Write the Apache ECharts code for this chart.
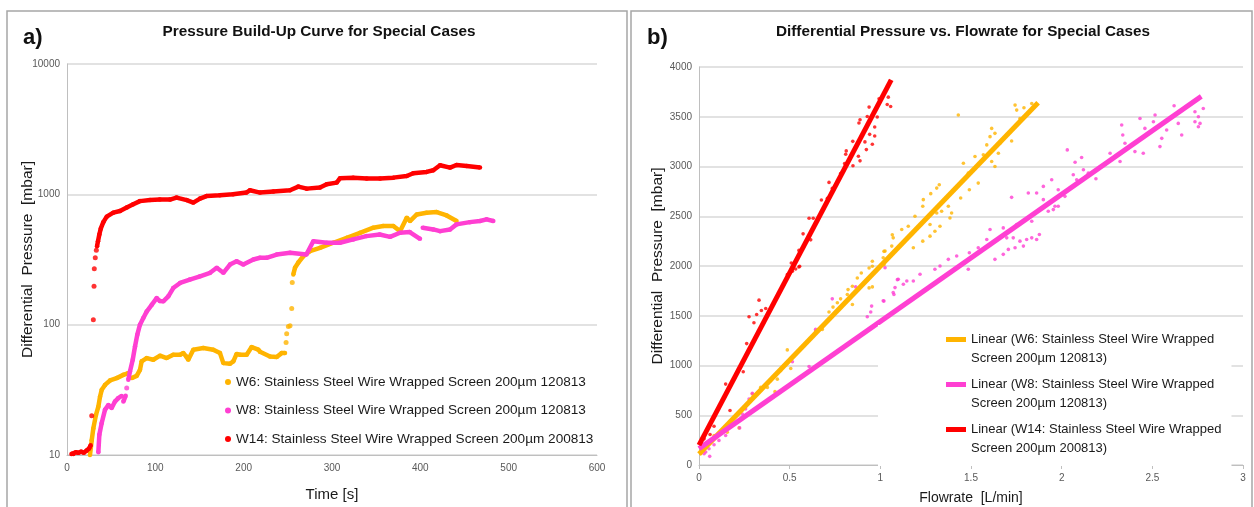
<!DOCTYPE html>
<html><head><meta charset="utf-8">
<script src="https://cdn.jsdelivr.net/npm/echarts@6/dist/echarts.min.js"></script>
<style>html,body{margin:0;padding:0;background:#fff}#c{width:1254px;height:507px}</style>
</head><body><div id="c"></div>
<script>
// ---------- Panel a) : pressure build-up (time [s], pressure [mbar]); null = break in trace
const w6Build = [[26,10],[28,13],[29.8,16],[32.8,20.3],[35.5,23.5],[37.4,28],[39.3,31.6],[43,34.5],[48.7,37.3],[56.3,38.9],[63.8,41.2],[69.4,42.5],null,
  [73.2,38.9],[78.9,40.5],[82.6,45],[84.5,52.3],[90.2,55.4],[97.7,53.8],[105.3,57.8],[112.8,55.4],[120.3,58.8],[128,58.8],[131.7,60.5],[135,57],[137.3,53.8],
  [143,64.3],[154.3,66.2],[165.6,64.3],[173.2,60.5],[177,50.7],[184.5,50.1],[188.3,52.3],[192,59.6],[196,58.8],[203.4,58.8],[209,67.3],[216.6,64.3],[218.5,62],
  [229.8,57],[237.4,56.5],[243,60.5],[246.8,60.5],null,[248,73],null,[248.7,85],null,[250.6,97],null,[252.5,98],null,[254.4,133],null,[255,211],null,
  [256.2,243],[258.1,273],[261.9,300],[267.5,335],[275,366],[286.4,389],[301.5,425],[316.7,464],[331.7,507],[346.8,555],[358,571],[369.4,571],[377,522],
  [384.6,662],[388.3,624],[396,701],[407,723],[418.5,731],[429.8,689],[441,624]];
const w8Build = [[35.5,10.5],[36.6,14.3],[39.2,17.5],[43,22.2],[46.8,24.2],[50.6,22.9],[54.3,25.7],[58,27.3],[61.9,28.4],null,
  [63.8,25.7],[66.4,28.5],null,[67.6,32.6],null,
  [69.4,37.8],[71.3,43.8],[74.4,53.8],[77,68],[79.6,83.8],[82.6,100],[86.4,112.6],[90.2,126],[95.9,142],[101.5,160],[105,152],[109,151],[114.7,165],
  [120.3,191],[128,209],[139,222],[150.6,235],[162,250],[169.5,273],[177,250],[184.5,289],[192,307],[199.6,289],[211,316],[218.5,326],[226,326],
  [237.4,345],[252.5,356],[271,345],[278.8,437],[294,425],[309,425],[324,451],[339,478],[354,492],[365.7,472],[377,507],[388,513],[399.6,456],null,
  [402.7,555],[414.7,538],[422.3,522],[433.6,538],[441,588],[456,612],[467.5,624],[475,643],[482.6,624]];
const w14Build = [[5,10.2],[7.2,10.2],[10,10.5],[12.8,10.4],[16,10.6],[19,10.4],[22,10.8],[25,11.2],[26.8,11.9],null,
  [28,20],null,[29.8,109],null,[30.6,197],null,[30.9,268],null,[32,326],null,[33.2,373],null,
  [34,400],[35.1,437],[36.6,492],[38.2,545],[41.1,612],[45,674],[52.4,723],[60,745],[67.6,791],[75,838],[82.6,887],[94,903],[105,912],[116.6,912],
  [124,944],[135.5,903],[143,864],[150.6,927],[158,970],[173,982],[188,1000],[203,1031],[207,1074],[218.5,1031],[233.6,1050],[252.5,1074],
  [261.9,1146],[271.4,1106],[286.4,1127],[294,1194],[305.3,1230],[309,1328],[324,1343],[339.3,1320],[354.4,1320],[369.4,1343],[384.6,1383],
  [392,1452],[407,1486],[414.7,1531],[422.3,1673],[433.6,1604],[441,1680],[452.5,1651],[467.5,1604]];

// ---------- Panel b) : differential pressure vs flowrate (L/min, mbar)
const w6Flow = [[0.009,113],[0.028,163],[0.083,297],[0.156,330],[0.221,373],[0.294,713],[0.340,780],[0.377,780],[0.395,847],[0.419,737],[0.432,863],
  [0.450,947],[0.487,1157],[0.506,970],[0.643,1347],[0.680,1363],[0.717,1537],[0.739,1587],[0.763,1630],[0.781,1670],[0.818,1713],[0.822,1763],
  [0.846,1797],[0.846,1613],[0.873,1880],[0.895,1930],[0.938,1780],[0.956,1790],[0.938,1980],[0.956,1997],[0.993,1980],[1.020,2013],[0.956,2047],
  [1.016,2083],[1.020,2147],[1.026,2150],[1.063,2200],[1.071,2283],[1.066,2313],[1.118,2367],[1.154,2400],[1.191,2500],[1.182,2183],[1.234,2250],
  [1.274,2300],[1.274,2417],[1.301,2350],[1.329,2400],[1.311,2533],[1.338,2550],[1.384,2483],[1.393,2533],[1.375,2600],[1.234,2600],[1.237,2667],
  [1.278,2727],[1.311,2783],[1.325,2817],[1.443,2683],[1.491,2767],[1.540,2833],[1.485,2933],[1.458,3033],[1.522,3100],[1.568,3117],[1.587,3217],
  [1.614,3050],[1.632,3000],[1.651,3133],[1.660,3233],[1.605,3300],[1.632,3333],[1.614,3383],[1.430,3517],[1.724,3257],[1.770,3483],[1.752,3567],
  [1.743,3617],[1.792,3590],[1.835,3633]];
const w8Flow = [[0.028,113],[0.037,130],[0.059,87],[0.055,163],[0.083,203],[0.110,247],[0.147,297],[0.224,373],[0.239,513],[0.257,563],[0.276,663],
  [0.294,720],[0.515,1037],[0.607,990],[0.643,1363],[0.735,1670],[0.864,1790],[0.928,1490],[0.947,1537],[0.952,1597],[1.020,1647],[1.016,1650],
  [1.075,1713],[1.071,1733],[1.081,1783],[1.094,1863],[1.099,1867],[1.127,1817],[1.146,1850],[1.182,1850],[1.219,1917],[1.026,1983],[1.301,1967],
  [1.329,2000],[1.375,2067],[1.421,2100],[1.485,1967],[1.491,2133],[1.540,2183],[1.632,2067],[1.678,2117],[1.706,2167],[1.743,2183],[1.789,2200],
  [1.587,2267],[1.642,2267],[1.697,2283],[1.733,2283],[1.770,2250],[1.807,2267],[1.835,2283],[1.862,2267],[1.877,2317],[1.605,2367],[1.678,2383],
  [1.752,2417],[1.835,2450],[1.926,2550],[1.954,2567],[1.963,2600],[1.981,2600],[1.899,2667],[1.973,2683],[2.018,2700],[1.724,2690],[1.816,2733],
  [1.862,2733],[1.981,2767],[1.899,2800],[1.945,2867],[2.083,2867],[2.064,2917],[2.189,2877],[2.147,2933],[2.120,2967],[2.074,3043],[2.110,3090],
  [2.031,3167],[2.322,3050],[2.267,3133],[2.404,3150],[2.450,3133],[2.349,3233],[2.337,3317],[2.331,3417],[2.542,3200],[2.552,3283],[2.579,3367],
  [2.459,3383],[2.432,3483],[2.506,3450],[2.515,3517],[2.620,3610],[2.643,3433],[2.662,3317],[2.735,3450],[2.763,3433],[2.754,3400],[2.754,3500],
  [2.735,3550],[2.781,3583]];
const w14Flow = [[0.009,230],[0.028,263],[0.061,307],[0.083,390],[0.147,813],[0.171,547],[0.244,937],[0.263,1220],[0.276,1490],[0.303,1430],
  [0.318,1513],[0.331,1657],[0.344,1553],[0.368,1573],[0.487,1913],[0.515,1947],[0.533,1970],[0.551,1990],[0.509,2030],[0.555,1997],[0.551,2157],
  [0.574,2323],[0.616,2263],[0.607,2480],[0.630,2480],[0.675,2663],[0.708,2680],[0.735,2780],[0.717,2840],[0.781,2930],[0.803,3030],[0.849,3007],
  [0.879,3103],[0.888,3057],[0.809,3123],[0.812,3157],[0.848,3253],[0.882,3437],[0.888,3470],[0.923,3170],[0.915,3247],[0.956,3223],[0.941,3323],
  [0.969,3307],[0.969,3397],[0.928,3503],[0.938,3597],[0.983,3497],[0.971,3563],[0.993,3680],[1.038,3623],[1.044,3697],[1.057,3603]];
// linear trend lines (end points)
const w6Trend = [[0,110],[1.87,3640]];
const w8Trend = [[0,165],[2.77,3705]];
const w14Trend = [[0,200],[1.06,3870]];

// ---------- names, ticks
const buildNames = ['W6: Stainless Steel Wire Wrapped Screen 200µm 120813','W8: Stainless Steel Wire Wrapped Screen 200µm 120813','W14: Stainless Steel Wire Wrapped Screen 200µm 200813'];
const trendNames = ['Linear (W6: Stainless Steel Wire Wrapped\nScreen 200µm 120813)','Linear (W8: Stainless Steel Wire Wrapped\nScreen 200µm 120813)','Linear (W14: Stainless Steel Wire Wrapped\nScreen 200µm 200813)'];
const timeTicks = [0,100,200,300,400,500,600];
const pressureLogTicks = [10,100,1000,10000];
const flowTicks = [0,0.5,1,1.5,2,2.5,3];
const dpTicks = [0,500,1000,1500,2000,2500,3000,3500,4000];
const colors = ['#FFB400','#FF3FD2','#FF0000'];

const SANS = '"Liberation Sans",Arial,sans-serif';

function segments(arr){const s=[];let c=[];arr.forEach(p=>{if(p===null){if(c.length)s.push(c);c=[];}else c.push(p);});if(c.length)s.push(c);return s;}

const series = [];
[w6Build,w8Build,w14Build].forEach((arr,i)=>{
  segments(arr).forEach(seg=>{
    if(seg.length>1){
      series.push({type:'line',name:buildNames[i],xAxisIndex:0,yAxisIndex:0,data:seg,symbol:'circle',symbolSize:4.5,showSymbol:true,
        lineStyle:{width:4.5,color:colors[i]},itemStyle:{color:colors[i]},z:2+i,animation:false,silent:true});
    } else {
      series.push({type:'scatter',name:buildNames[i],xAxisIndex:0,yAxisIndex:0,data:seg,symbol:'circle',symbolSize:5,
        itemStyle:{color:colors[i]},z:2+i,animation:false,silent:true});
    }
  });
});
[w6Flow,w8Flow,w14Flow].forEach((arr,i)=>{
  series.push({type:'scatter',name:'pts'+i,xAxisIndex:1,yAxisIndex:1,data:arr,symbol:'circle',symbolSize:3.6,
    itemStyle:{color:colors[i]},animation:false,silent:true,z:2});
});
[w6Trend,w8Trend,w14Trend].forEach((arr,i)=>{
  series.push({type:'line',name:trendNames[i],xAxisIndex:1,yAxisIndex:1,data:arr,symbol:'none',
    lineStyle:{width:5,color:colors[i]},itemStyle:{color:colors[i]},animation:false,silent:true,z:3});
});

const tickLabel = {fontFamily:SANS,fontSize:10,color:'#595959',formatter:v=>String(v)};
const gridLine = {show:true,lineStyle:{color:'#d9d9d9',width:1.5}};
const axisLine = {show:true,lineStyle:{color:'#bfbfbf',width:1}};

const option = {
  backgroundColor:'#fff',
  animation:false,
  title:[
    {text:'a)',left:23,top:27,padding:0,textStyle:{fontFamily:SANS,fontSize:22,fontWeight:'bold',color:'#111'}},
    {text:'Pressure Build-Up Curve for Special Cases',left:319,top:24,padding:0,textAlign:'center',textStyle:{fontFamily:SANS,fontSize:15.3,fontWeight:'bold',color:'#111'}},
    {text:'b)',left:647,top:27,padding:0,textStyle:{fontFamily:SANS,fontSize:22,fontWeight:'bold',color:'#111'}},
    {text:'Differential Pressure vs. Flowrate for Special Cases',left:963,top:24,padding:0,textAlign:'center',textStyle:{fontFamily:SANS,fontSize:15.3,fontWeight:'bold',color:'#111'}}
  ],
  legend:[
    {data:buildNames.map(n=>({name:n,icon:'circle'})),orient:'vertical',left:221,top:373,itemWidth:6,itemHeight:6,itemGap:14.5,padding:[2,4,2,4],
     textStyle:{fontFamily:SANS,fontSize:13.6,color:'#1a1a1a'},itemStyle:{borderWidth:0},selectedMode:false},
    {data:trendNames.map(n=>({name:n,icon:'path://M0,7H20V12H0Z M0,0H20 M0,38H20'})),orient:'vertical',left:878,top:325,itemWidth:20,itemHeight:38,itemGap:7,
     padding:[5,10,8,68],backgroundColor:'#fff',
     textStyle:{fontFamily:SANS,fontSize:13,lineHeight:19,color:'#1a1a1a'},itemStyle:{borderWidth:0},selectedMode:false}
  ],
  grid:[
    {left:67,top:64,width:530,height:391,outerBoundsMode:'none'},
    {left:699,top:67,width:544,height:398,outerBoundsMode:'none'}
  ],
  xAxis:[
    {type:'value',gridIndex:0,min:timeTicks[0],max:timeTicks[timeTicks.length-1],interval:100,
     name:'Time [s]',nameLocation:'middle',nameGap:32,nameMoveOverlap:false,nameTextStyle:{fontFamily:SANS,fontSize:15,color:'#1a1a1a'},
     axisLine:axisLine,axisTick:{show:false},splitLine:{show:false},axisLabel:Object.assign({margin:8},tickLabel)},
    {type:'value',gridIndex:1,min:flowTicks[0],max:flowTicks[flowTicks.length-1],interval:0.5,
     name:'Flowrate  [L/min]',nameLocation:'middle',nameGap:26,nameMoveOverlap:false,nameTextStyle:{fontFamily:SANS,fontSize:14,color:'#1a1a1a'},
     axisLine:axisLine,axisTick:{show:true,length:4,lineStyle:{color:'#bfbfbf'}},splitLine:{show:false},axisLabel:Object.assign({margin:8},tickLabel)}
  ],
  yAxis:[
    {type:'log',logBase:10,gridIndex:0,min:pressureLogTicks[0],max:pressureLogTicks[pressureLogTicks.length-1],
     name:'Differential  Pressure  [mbar]',nameLocation:'middle',nameGap:31,nameMoveOverlap:false,nameTextStyle:{fontFamily:SANS,fontSize:15.5,color:'#1a1a1a'},
     axisLine:axisLine,axisTick:{show:false},splitLine:gridLine,axisLabel:Object.assign({margin:7},tickLabel)},
    {type:'value',gridIndex:1,min:dpTicks[0],max:dpTicks[dpTicks.length-1],interval:500,
     name:'Differential  Pressure  [mbar]',nameLocation:'middle',nameGap:33,nameMoveOverlap:false,nameTextStyle:{fontFamily:SANS,fontSize:15.5,color:'#1a1a1a'},
     axisLine:axisLine,axisTick:{show:false},splitLine:gridLine,axisLabel:Object.assign({margin:7},tickLabel)}
  ],
  graphic:[
    {type:'rect',shape:{x:7,y:11,width:620,height:520},style:{fill:'none',stroke:'#a6a6a6',lineWidth:1.5},silent:true,z:-10},
    {type:'rect',shape:{x:631,y:11,width:621,height:520},style:{fill:'none',stroke:'#a6a6a6',lineWidth:1.5},silent:true,z:-10}
  ],
  series:series
};
const chart = echarts.init(document.getElementById('c'),null,{renderer:'canvas'});
chart.setOption(option);
</script></body></html>
